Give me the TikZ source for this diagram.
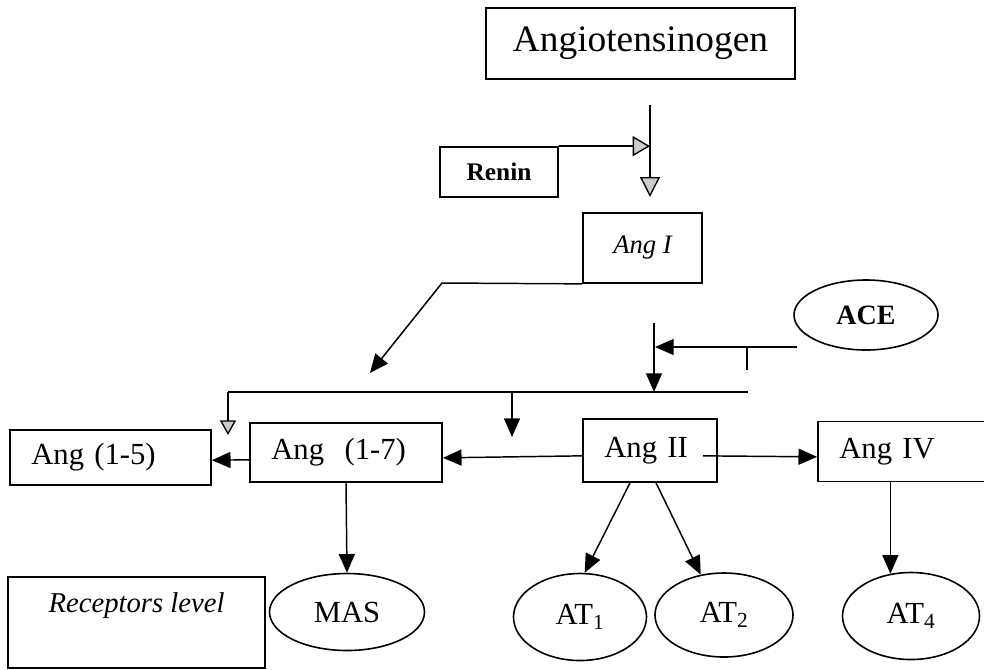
\documentclass[tikz,border=0pt]{standalone}
\usepackage{fontspec}
\setmainfont{Liberation Serif}
\usetikzlibrary{arrows.meta,shapes.geometric}

\tikzset{
  rbox/.style={draw,line width=1.3pt,inner sep=0pt},
  lbox/.style={rbox,align=left,inner xsep=16pt,font=\fontsize{23}{27}\selectfont},
  recep/.style={draw,ellipse,line width=1.2pt,inner sep=0pt,font=\fontsize{23}{27}\selectfont},
  arr/.style={line width=1.1pt,-{Triangle[length=14pt,width=12pt]}},
  garr/.style={line width=1pt,-{Triangle[length=15pt,width=15pt,fill=gray!40]}},
  sgarr/.style={line width=1pt,-{Triangle[length=11pt,width=12pt,fill=gray!40]}},
}

\begin{document}
\begin{tikzpicture}[x=0.75pt,y=0.75pt,yscale=-1,xscale=1]
\useasboundingbox (0,0) rectangle (984,669);

% Boxes
\node[rbox, minimum width=231.75pt, minimum height=53.25pt, font=\fontsize{28}{31}\selectfont] (agt) at (640.5,43.5) {Angiotensinogen};
\node[rbox, minimum width=88.5pt, minimum height=37.5pt, font=\bfseries\fontsize{19}{22}\selectfont] (renin) at (499,172) {Renin};
\node[rbox, minimum width=89.25pt, minimum height=52.5pt, font=\itshape\fontsize{20}{24}\selectfont] (angI) at (642.5,248) {Ang I};
\node[recep, minimum width=108pt, minimum height=52.5pt, font=\bfseries\fontsize{21}{24}\selectfont] (ace) at (866,315) {ACE};

\node[lbox, text width=118.75pt, minimum height=41.25pt] (ang15) at (110.5,457.5) {Ang (1-5)};
\node[lbox, text width=112pt, minimum height=44.25pt] (ang17) at (346,452.5) {Ang\ \ (1-7)};
\node[lbox, text width=68.5pt, minimum height=47.25pt] (angII) at (650,450.5) {Ang II};
\node[lbox, text width=104.5pt, minimum height=45pt] (angIV) at (909,451.5) {Ang IV};

\node[rbox, line width=1pt, minimum width=192.75pt, minimum height=68.25pt, text height=15pt, text depth=30pt, font=\itshape\fontsize{21.5}{25}\selectfont] (recv) at (136.5,622.5) {Receptors level};

% Receptors
\node[recep, minimum width=116.25pt, minimum height=57.75pt] (mas) at (347,612) {MAS};
\node[recep, minimum width=99.75pt, minimum height=65.25pt] (at1) at (580,617) {AT\textsubscript{1}};
\node[recep, minimum width=103.5pt, minimum height=63pt] (at2) at (724,615) {AT\textsubscript{2}};
\node[recep, minimum width=102.75pt, minimum height=65.25pt] (at4) at (911,616) {AT\textsubscript{4}};

% Free ends
\coordinate (agtline) at (650,105);
\coordinate (reninjn) at (650,145);
\coordinate (angItip) at (650,197);
\coordinate (angIbend) at (442,283);
\coordinate (angIend) at (370,373);
\coordinate (acestart) at (797,347);
\coordinate (acetip) at (655,347);
\coordinate (acetick) at (747,370);
\coordinate (convtop) at (654,323);
\coordinate (convtip) at (654,392);
\coordinate (barright) at (748,392);
\coordinate (barleft) at (228,392);
\coordinate (bartipA) at (228,435);
\coordinate (barmid) at (512,392);
\coordinate (bartipB) at (512,437);

% Connectors
\draw[garr] (agtline) -- (angItip);
\draw[sgarr, -{Triangle[length=13pt,width=15pt,fill=gray!40]}] (renin.north east) -- (renin.north east -| reninjn);
\draw[arr] (angI.south west) -- (angIbend) -- (angIend);
\draw[arr] (acestart) -- (acetip);
\draw[line width=0.8pt] (acestart -| acetick) -- (acetick);
\draw[arr] (convtop) -- (convtip);
\draw[line width=1pt] (barright) -- (barleft);
\draw[sgarr] (barleft) -- (bartipA);
\draw[arr] (barmid) -- (bartipB);

\draw[arr] ([yshift=4pt]angII.west) -- ([yshift=4pt]ang17.east);
\draw[arr] ([xshift=-11pt,yshift=4pt]angII.east) -- ([yshift=4pt]angIV.west);
\draw[arr] ([yshift=5.5pt]ang17.west) -- ([yshift=2pt]ang15.east);

\draw[arr] (ang17.south) -- (mas.north);
\draw[arr] ([xshift=-15pt]angII.south) -- (at1.84);
\draw[arr] ([xshift=4.5pt]angII.south) -- (at2.120);
\draw[arr] (at4.116 |- angIV.south) -- (at4.116);

\end{tikzpicture}
\end{document}
